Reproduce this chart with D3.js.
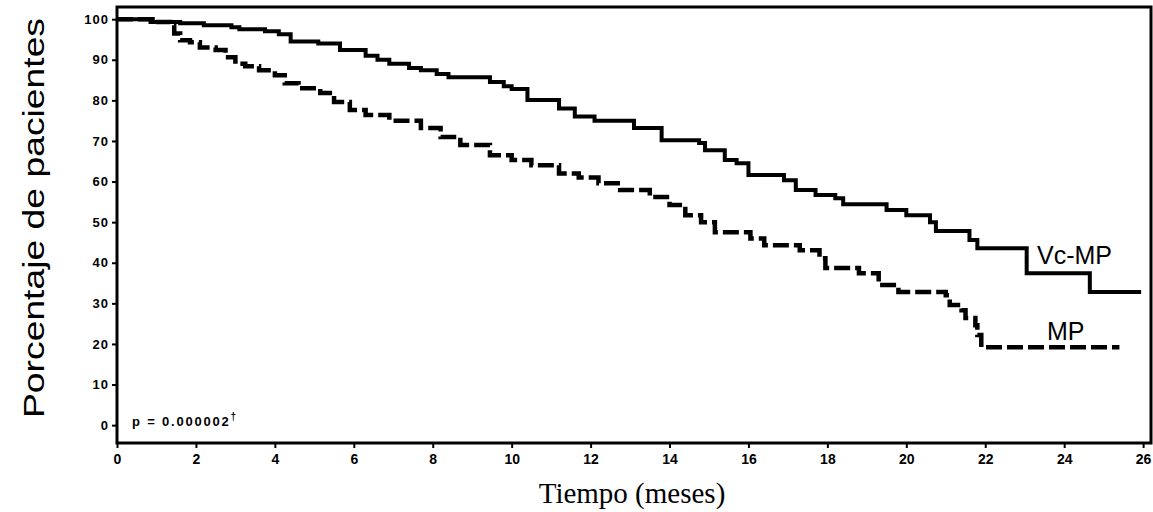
<!DOCTYPE html>
<html>
<head>
<meta charset="utf-8">
<script src="https://cdn.jsdelivr.net/npm/d3@7"></script>
<style>
  body { margin: 0; background: #fff; }
  svg { display: block; }
</style>
</head>
<body>
<svg id="chart" width="1153" height="512"></svg>
<script>
// survival curves (months, % of patients)
var vcmpTime = [0, 0.85, 1.6, 2.2, 2.9, 3.1, 3.75, 4.1, 4.4, 5.1, 5.65, 6.3, 6.6, 6.9, 7.4, 7.7, 8.1, 8.4, 9.45, 9.8, 10.0, 10.4, 11.2, 11.6, 12.1, 13.1, 13.8, 14.75, 14.9, 15.4, 15.7, 16.0, 16.9, 17.2, 17.7, 18.2, 18.4, 19.5, 20.0, 20.6, 20.75, 21.6, 21.8, 23.05, 24.65, 25.95];
var vcmpPct  = [100, 99.3, 99, 98.5, 98, 97.5, 97, 96.3, 94.5, 94, 92.4, 91, 90, 89, 88, 87.4, 86.5, 85.7, 84.5, 83.5, 82.8, 80.1, 78, 76, 75, 73.2, 70.2, 69.5, 67.7, 65.3, 64.5, 61.6, 60.3, 57.9, 56.7, 55.9, 54.4, 53, 51.7, 50, 47.8, 45.6, 43.6, 37.4, 32.8, 32.8];

var mpTime = [0, 0.9, 1.35, 1.45, 1.6, 1.85, 2.1, 2.5, 2.75, 3.0, 3.25, 3.6, 4.0, 4.25, 4.6, 5.15, 5.5, 5.9, 6.3, 6.9, 7.7, 8.2, 8.7, 9.45, 10.0, 10.5, 11.2, 11.7, 12.2, 12.75, 13.5, 14.0, 14.4, 14.8, 15.15, 16.05, 16.4, 17.3, 17.8, 17.95, 18.8, 19.3, 19.8, 21.0, 21.1, 21.4, 21.5, 21.75, 21.8, 21.9, 25.4];
var mpPct  = [100, 99.3, 98.5, 96.5, 94.8, 94.3, 93, 92.4, 90.6, 89, 88.4, 87.4, 86.2, 84.2, 83, 81.8, 79.6, 77.6, 76.4, 75, 73.2, 71, 69, 66.5, 65.3, 64, 62, 61, 59.6, 57.9, 56.2, 54.2, 51.7, 50, 47.5, 46, 44.3, 43.1, 41.1, 38.7, 37.4, 34.5, 32.8, 32, 29.6, 28.3, 26.4, 24.6, 22.2, 19.2, 19.2];

var xTicks = [0, 2, 4, 6, 8, 10, 12, 14, 16, 18, 20, 22, 24, 26];
var yTicks = [0, 10, 20, 30, 40, 50, 60, 70, 80, 90, 100];

var seriesNames = ["Vc-MP", "MP"];
var xTitle = "Tiempo (meses)";
var yTitle = "Porcentaje de pacientes";
var pText = "p = 0.000002";

(function () {
    var svg = d3.select("#chart");
    // plot frame edges (don't name these top/left globally, window.top is read-only)
    var pl = 117, pr = 1151, pt = 7, pb = 443;

    var x = d3.scaleLinear().domain([0, 26.2]).range([pl, pr]);
    var y = d3.scaleLinear().domain([-4.4, 103]).range([pb, pt]);

    var line = d3.line()
        .x(function (d) { return x(d[0]); })
        .y(function (d) { return y(d[1]); })
        .curve(d3.curveStepAfter);

    var vcmp = d3.zip(vcmpTime, vcmpPct);
    var mp = d3.zip(mpTime, mpPct);

    // axes
    var xAxis = d3.axisBottom(x).tickValues(xTicks).tickSize(5).tickPadding(6);
    var yAxis = d3.axisLeft(y).tickValues(yTicks).tickSize(5).tickPadding(3);

    var gx = svg.append("g").attr("transform", "translate(0," + pb + ")").call(xAxis);
    var gy = svg.append("g").attr("transform", "translate(" + pl + ",0)").call(yAxis);
    [gx, gy].forEach(function (g) {
        g.select(".domain").remove();
        g.selectAll(".tick line").attr("stroke", "#000").attr("stroke-width", 2);
        g.selectAll(".tick text")
            .attr("fill", "#000")
            .style("font-family", "'Liberation Sans', Arial, sans-serif")
            .style("font-weight", "bold")
            .style("font-size", "13px");
    });
    gx.selectAll(".tick text").style("font-size", "14px");
    gy.selectAll(".tick text").style("letter-spacing", "1px");

    // frame
    svg.append("rect")
        .attr("x", pl).attr("y", pt)
        .attr("width", pr - pl).attr("height", pb - pt)
        .attr("fill", "none").attr("stroke", "#000").attr("stroke-width", 3);

    // curves
    svg.append("path").datum(vcmp)
        .attr("d", line).attr("fill", "none")
        .attr("stroke", "#000").attr("stroke-width", 4);

    svg.append("path").datum(mp)
        .attr("d", line).attr("fill", "none")
        .attr("stroke", "#000").attr("stroke-width", 4.5)
        .attr("stroke-dasharray", "16,5");

    // curve labels
    var labelFont = "'Liberation Sans', Arial, sans-serif";
    svg.append("text").attr("x", 1037).attr("y", 264)
        .style("font-family", labelFont).style("font-size", "25px")
        .text(seriesNames[0]);
    svg.append("text").attr("x", 1047).attr("y", 340)
        .style("font-family", labelFont).style("font-size", "25px")
        .text(seriesNames[1]);

    // p value
    var ptxt = svg.append("text").attr("x", 132).attr("y", 426)
        .style("font-family", labelFont).style("font-weight", "bold")
        .style("font-size", "13px").style("letter-spacing", "1.8px")
        .text(pText);
    ptxt.append("tspan").attr("dy", -6).style("font-size", "10px").text("\u2020");

    // axis titles
    svg.append("text")
        .attr("x", 632).attr("y", 503)
        .attr("text-anchor", "middle")
        .style("font-family", "'Liberation Serif', 'Times New Roman', serif")
        .style("font-size", "29px")
        .text(xTitle);

    svg.append("text")
        .attr("transform", "translate(44,218) rotate(-90)")
        .attr("text-anchor", "middle")
        .attr("textLength", 400)
        .attr("lengthAdjust", "spacingAndGlyphs")
        .style("font-family", labelFont)
        .style("font-size", "29px")
        .text(yTitle);
})();
</script>
</body>
</html>
